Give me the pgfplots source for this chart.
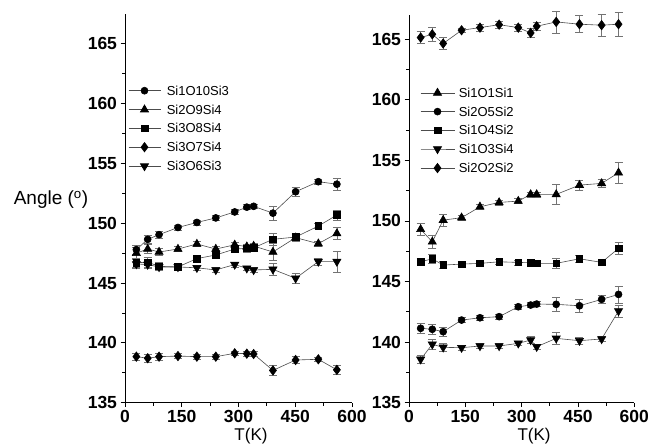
\documentclass[border=0pt]{standalone}
\usepackage{fontspec}
\setmainfont{Liberation Sans}
\usepackage{pgfplots}
\pgfplotsset{compat=1.18}
\newcommand{\lf}{\fontsize{13}{14}\selectfont}
\pgfplotsset{
  panel/.style={
    scale only axis,
    xmin=0, xmax=600, ymin=135,
    axis lines*=left,
    axis line style={line width=1pt, black},
    tick align=outside,
    xtick={0,150,...,600}, ytick={135,140,...,165},
    minor x tick num=1, minor y tick num=1,
    major tick length=4.5pt, minor tick length=3pt,
    every tick/.style={black, line width=0.9pt},
    /pgf/number format/assume math mode=true,
    tick label style={font=\fontsize{17.5}{19}\selectfont\bfseries},
    xlabel={T(K)},
    xlabel style={at={(axis description cs:0.555,0)}, anchor=north, inner sep=0pt, yshift=-25pt, font=\fontsize{17}{18}\selectfont},
    clip=false,
    every axis plot/.append style={line width=0.6pt, black!70,
      mark options={fill=black, draw=black, solid},
      error bars/y dir=both, error bars/y explicit,
      error bars/error bar style={line width=0.6pt, black!55},
      error bars/error mark options={rotate=90, mark size=4pt, line width=0.6pt, black!55}},
  },
  mcirc/.style={mark=*, mark size=3.5pt},
  mtri/.style={mark=triangle*, mark size=4.7pt},
  msq/.style={mark=square*, mark size=3.3pt},
  mdia/.style={mark=diamond*, mark size=4.7pt},
  mdtri/.style={mark=triangle*, mark size=4.7pt, mark options={rotate=180, fill=black, draw=black, solid}},
}
\begin{document}
\begin{tikzpicture}
\useasboundingbox (0,0) rectangle (650pt,445pt);
\node[font=\fontsize{19}{20}\selectfont, inner sep=0pt] at (51pt,245pt) {Angle (\textsuperscript{o})};
% ---------------- left panel
\begin{axis}[panel, at={(125pt,42.3pt)}, anchor=south west, width=227pt, height=388.7pt, ymax=167.5,
  legend cell align=left,
  legend image code/.code={\draw[#1, mark repeat=2, mark phase=2] plot coordinates {(0pt,0pt)(16pt,0pt)(32pt,0pt)};},
  legend style={draw=none, fill=none, font=\lf, at={(axis description cs:0,1)}, anchor=north west,
    inner sep=0pt, row sep=9.7pt, xshift=3pt, yshift=-72pt,
    nodes={inner sep=0pt, text height=9pt, text depth=0pt}}]
\addplot[mcirc] coordinates {
 (30,147.80) +- (0,0.4) (60,148.66) +- (0,0.3) (90,149.05) +- (0,0.3) (140,149.65) +- (0,0.2)
 (190,150.07) +- (0,0.2) (240,150.45) +- (0,0.2) (290,150.95) +- (0,0.2) (322,151.35) +- (0,0.2)
 (340,151.42) +- (0,0.2) (391,150.85) +- (0,0.6) (451,152.64) +- (0,0.4) (511,153.48) +- (0,0.2)
 (560,153.27) +- (0,0.5)};
\addlegendentry{\lf\hspace{6pt}Si1O10Si3}
\addplot[mtri] coordinates {
 (30,147.50) +- (0,0.5) (60,147.85) +- (0,0.4) (90,147.60) +- (0,0.3) (140,147.85) +- (0,0.2)
 (190,148.27) +- (0,0.2) (240,147.85) +- (0,0.2) (290,148.20) +- (0,0.2) (322,148.05) +- (0,0.2)
 (340,148.10) +- (0,0.2) (391,147.60) +- (0,0.7) (451,148.80) +- (0,0.3) (511,148.30) +- (0,0.2)
 (560,149.15) +- (0,0.5)};
\addlegendentry{\lf\hspace{6pt}Si2O9Si4}
\addplot[msq] coordinates {
 (30,146.70) +- (0,0.4) (60,146.75) +- (0,0.4) (90,146.40) +- (0,0.3) (140,146.35) +- (0,0.2)
 (190,147.05) +- (0,0.2) (240,147.35) +- (0,0.2) (290,147.85) +- (0,0.3) (322,147.90) +- (0,0.3)
 (340,147.95) +- (0,0.3) (391,148.66) +- (0,0.5) (451,148.85) +- (0,0.3) (511,149.77) +- (0,0.2)
 (560,150.69) +- (0,0.4)};
\addlegendentry{\lf\hspace{6pt}Si3O8Si4}
\addplot[mdia] coordinates {
 (30,138.85) +- (0,0.3) (60,138.72) +- (0,0.3) (90,138.85) +- (0,0.3) (140,138.90) +- (0,0.2)
 (190,138.85) +- (0,0.2) (240,138.85) +- (0,0.2) (290,139.13) +- (0,0.2) (322,139.10) +- (0,0.2)
 (340,139.07) +- (0,0.2) (391,137.70) +- (0,0.4) (451,138.57) +- (0,0.3) (511,138.63) +- (0,0.2)
 (560,137.75) +- (0,0.4)};
\addlegendentry{\lf\hspace{6pt}Si3O7Si4}
\addplot[mdtri] coordinates {
 (30,146.60) +- (0,0.4) (60,146.55) +- (0,0.3) (90,146.35) +- (0,0.3) (140,146.35) +- (0,0.2)
 (190,146.28) +- (0,0.2) (240,146.10) +- (0,0.2) (290,146.55) +- (0,0.2) (322,146.24) +- (0,0.2)
 (340,146.10) +- (0,0.2) (391,146.15) +- (0,0.5) (451,145.40) +- (0,0.4) (511,146.80) +- (0,0.3)
 (560,146.80) +- (0,0.9)};
\addlegendentry{\lf\hspace{6pt}Si3O6Si3}
\end{axis}
% ---------------- right panel
\begin{axis}[panel, at={(409pt,42.3pt)}, anchor=south west, width=225.3pt, height=387.7pt, ymax=167,
  legend cell align=left,
  legend image code/.code={\draw[#1, mark repeat=2, mark phase=2] plot coordinates {(0pt,0pt)(17pt,0pt)(34pt,0pt)};},
  legend style={draw=none, fill=none, font=\lf, at={(axis description cs:0,1)}, anchor=north west,
    inner sep=0pt, row sep=9.7pt, xshift=11pt, yshift=-73pt,
    nodes={inner sep=0pt, text height=9pt, text depth=0pt}}]
\addplot[mtri] coordinates {
 (31,149.31) +- (0,0.5) (62,148.28) +- (0,0.5) (91,150.07) +- (0,0.5) (140,150.27) +- (0,0.2)
 (189,151.17) +- (0,0.2) (240,151.53) +- (0,0.2) (291,151.64) +- (0,0.2) (324,152.19) +- (0,0.2)
 (340,152.19) +- (0,0.2) (392,152.19) +- (0,0.8) (454,152.96) +- (0,0.4) (513,153.10) +- (0,0.3)
 (558,153.98) +- (0,0.9)};
\addlegendentry{\lf\hspace{4pt}Si1O1Si1}
\addplot[mcirc] coordinates {
 (31,141.14) +- (0,0.4) (62,141.06) +- (0,0.4) (91,140.86) +- (0,0.4) (140,141.82) +- (0,0.2)
 (189,142.01) +- (0,0.2) (240,142.10) +- (0,0.2) (291,142.92) +- (0,0.2) (324,143.06) +- (0,0.2)
 (340,143.14) +- (0,0.2) (392,143.12) +- (0,0.6) (454,143.00) +- (0,0.5) (513,143.53) +- (0,0.3)
 (558,143.94) +- (0,0.7)};
\addlegendentry{\lf\hspace{4pt}Si2O5Si2}
\addplot[msq] coordinates {
 (31,146.63) +- (0,0.3) (62,146.88) +- (0,0.4) (91,146.36) +- (0,0.3) (140,146.44) +- (0,0.2)
 (189,146.50) +- (0,0.2) (240,146.63) +- (0,0.2) (291,146.58) +- (0,0.2) (324,146.55) +- (0,0.2)
 (340,146.50) +- (0,0.2) (392,146.50) +- (0,0.4) (454,146.88) +- (0,0.3) (513,146.58) +- (0,0.2)
 (558,147.74) +- (0,0.5)};
\addlegendentry{\lf\hspace{4pt}Si1O4Si2}
\addplot[mdtri] coordinates {
 (31,138.58) +- (0,0.3) (62,139.82) +- (0,0.4) (91,139.57) +- (0,0.3) (140,139.54) +- (0,0.2)
 (189,139.68) +- (0,0.2) (240,139.68) +- (0,0.2) (291,139.90) +- (0,0.2) (324,140.17) +- (0,0.3)
 (340,139.62) +- (0,0.2) (392,140.31) +- (0,0.5) (454,140.12) +- (0,0.3) (513,140.26) +- (0,0.2)
 (558,142.57) +- (0,0.5)};
\addlegendentry{\lf\hspace{4pt}Si1O3Si4}
\addplot[mdia] coordinates {
 (31,165.14) +- (0,0.5) (62,165.41) +- (0,0.6) (91,164.65) +- (0,0.5) (140,165.74) +- (0,0.2)
 (189,165.96) +- (0,0.3) (240,166.20) +- (0,0.3) (291,165.96) +- (0,0.3) (324,165.52) +- (0,0.4)
 (340,166.07) +- (0,0.3) (392,166.43) +- (0,0.9) (454,166.24) +- (0,0.7) (513,166.16) +- (0,0.9)
 (558,166.24) +- (0,1.0)};
\addlegendentry{\lf\hspace{4pt}Si2O2Si2}
\end{axis}
\end{tikzpicture}
\end{document}
